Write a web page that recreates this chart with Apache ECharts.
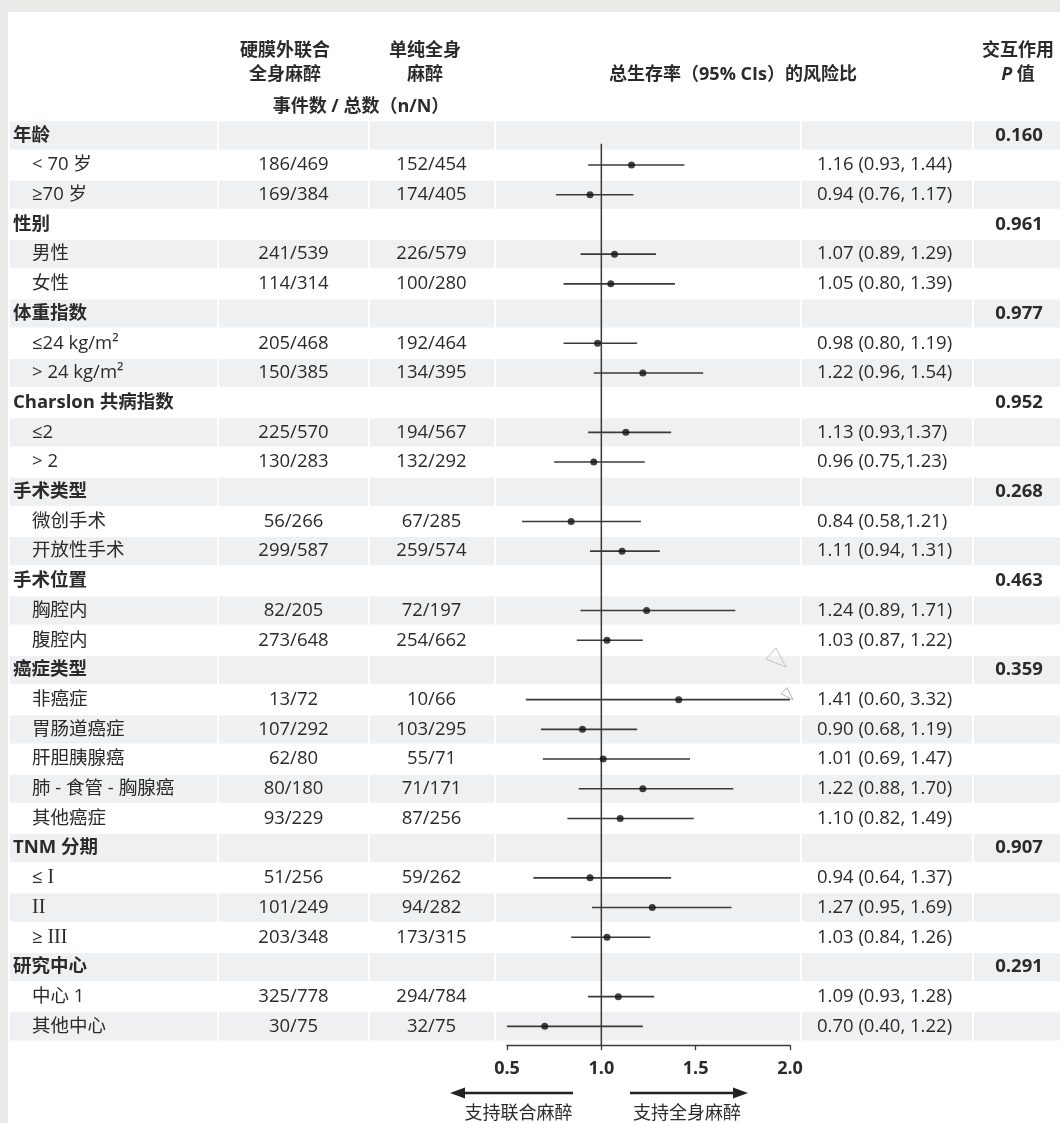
<!DOCTYPE html>
<html>
<head>
<meta charset="utf-8">
<title>总生存率风险比森林图</title>
<script src="https://cdn.jsdelivr.net/npm/echarts/dist/echarts.min.js"></script>
<style>
  html, body { margin: 0; padding: 0; background: #ebeae6; }
  #chart { width: 1060px; height: 1123px; }
</style>
</head>
<body>
<div id="chart"></div>
<script>
// ---- data ----
// {r|...} marks Roman numerals, which are set in a serif face
const rowLabels = ['年龄', '< 70 岁', '≥70 岁', '性别', '男性', '女性', '体重指数', '≤24 kg/m²', '> 24 kg/m²',
  'Charslon 共病指数', '≤2', '> 2', '手术类型', '微创手术', '开放性手术', '手术位置', '胸腔内', '腹腔内',
  '癌症类型', '非癌症', '胃肠道癌症', '肝胆胰腺癌', '肺 - 食管 - 胸腺癌', '其他癌症', 'TNM 分期', '≤ {r|I}', '{r|II}', '≥ {r|III}',
  '研究中心', '中心 1', '其他中心'];
const combinedCounts = ['', '186/469', '169/384', '', '241/539', '114/314', '', '205/468', '150/385',
  '', '225/570', '130/283', '', '56/266', '299/587', '', '82/205', '273/648',
  '', '13/72', '107/292', '62/80', '80/180', '93/229', '', '51/256', '101/249', '203/348',
  '', '325/778', '30/75'];
const generalCounts = ['', '152/454', '174/405', '', '226/579', '100/280', '', '192/464', '134/395',
  '', '194/567', '132/292', '', '67/285', '259/574', '', '72/197', '254/662',
  '', '10/66', '103/295', '55/71', '71/171', '87/256', '', '59/262', '94/282', '173/315',
  '', '294/784', '32/75'];
const hazardRatio = [null, 1.16, 0.94, null, 1.07, 1.05, null, 0.98, 1.22,
  null, 1.13, 0.96, null, 0.84, 1.11, null, 1.24, 1.03,
  null, 1.41, 0.90, 1.01, 1.22, 1.10, null, 0.94, 1.27, 1.03,
  null, 1.09, 0.70];
const ciLower = [null, 0.93, 0.76, null, 0.89, 0.80, null, 0.80, 0.96,
  null, 0.93, 0.75, null, 0.58, 0.94, null, 0.89, 0.87,
  null, 0.60, 0.68, 0.69, 0.88, 0.82, null, 0.64, 0.95, 0.84,
  null, 0.93, 0.40];
const ciUpper = [null, 1.44, 1.17, null, 1.29, 1.39, null, 1.19, 1.54,
  null, 1.37, 1.23, null, 1.21, 1.31, null, 1.71, 1.22,
  null, 3.32, 1.19, 1.47, 1.70, 1.49, null, 1.37, 1.69, 1.26,
  null, 1.28, 1.22];
const pInteraction = ['0.160', '', '', '0.961', '', '', '0.977', '', '',
  '0.952', '', '', '0.268', '', '', '0.463', '', '',
  '0.359', '', '', '', '', '', '0.907', '', '', '',
  '0.291', '', ''];
// rows whose CI text is printed without a space after the comma
const compactCiRows = [10, 11, 13];
const xTicks = [0.5, 1.0, 1.5, 2.0];

// ---- layout & style ----
const FONT = "'Open Sans', 'Noto Sans CJK SC', sans-serif";
const SERIF = "'Liberation Serif', 'DejaVu Serif', serif";
const INK = '#2b2b2b';
const STRIPE = '#eff0f1';
const ROW_TOP = 120.5;
const ROW_H = 29.7;
const ROW_FONT = 18.5;
const N = rowLabels.length;
const X_MIN = xTicks[0];
const X_MAX = xTicks[xTicks.length - 1];
// column cells in page pixels [left, right]
const COLS = [[10, 217], [219, 368], [370, 494], [496, 800], [802, 972], [974, 1060]];
const COL_COMBINED = 293.5, COL_GENERAL = 431.5, COL_HR = 817, COL_P = 1019;

function ciText(i) {
  const sep = compactCiRows.indexOf(i) >= 0 ? ',' : ', ';
  return hazardRatio[i].toFixed(2) + ' (' + ciLower[i].toFixed(2) + sep + ciUpper[i].toFixed(2) + ')';
}

function txt(x, y, text, opts) {
  return {
    type: 'text',
    style: Object.assign({
      text: text, x: x, y: y, fill: INK, fontFamily: FONT, fontSize: ROW_FONT,
      align: 'left', verticalAlign: 'middle'
    }, opts || {})
  };
}

function renderTableRow(params, api) {
  const i = api.value(1);
  const yc = api.coord([0, i])[1];
  const bandH = api.size([0, 1])[1];
  const children = [];
  if (i % 2 === 0) {
    COLS.forEach(function (c) {
      const x0 = api.coord([c[0], i])[0];
      const x1 = api.coord([c[1], i])[0];
      children.push({
        type: 'rect',
        shape: { x: x0, y: yc - bandH / 2 + 0.8, width: x1 - x0, height: bandH - 1.6 },
        style: { fill: STRIPE }
      });
    });
  }
  const isGroup = hazardRatio[i] === null;
  children.push(txt(api.coord([isGroup ? 13 : 32, i])[0], yc, rowLabels[i], {
    fontWeight: isGroup ? 'bold' : 'normal',
    rich: { r: { fontFamily: SERIF, fontSize: 20, fill: INK } }
  }));
  if (combinedCounts[i]) {
    children.push(txt(api.coord([COL_COMBINED, i])[0], yc, combinedCounts[i], { align: 'center' }));
  }
  if (generalCounts[i]) {
    children.push(txt(api.coord([COL_GENERAL, i])[0], yc, generalCounts[i], { align: 'center' }));
  }
  if (!isGroup) {
    children.push(txt(api.coord([COL_HR, i])[0], yc, ciText(i)));
  }
  if (pInteraction[i]) {
    children.push(txt(api.coord([COL_P, i])[0], yc, pInteraction[i], { align: 'center', fontWeight: 'bold' }));
  }
  return { type: 'group', children: children };
}

function renderCi(params, api) {
  const lo = api.value(0), hi = api.value(1), i = api.value(2);
  const p0 = api.coord([Math.max(lo, X_MIN), i]);
  const p1 = api.coord([Math.min(hi, X_MAX), i]);
  const children = [{
    type: 'line',
    shape: { x1: p0[0], y1: p0[1], x2: p1[0], y2: p1[1] },
    style: { stroke: '#3a3a3a', lineWidth: 1.6 }
  }];
  if (hi > X_MAX) {
    // open arrowhead marking an interval that runs past the axis
    children.push({
      type: 'polygon',
      shape: { points: [[p1[0] - 9, p1[1] - 6], [p1[0] - 3, p1[1] - 12], [p1[0] + 3, p1[1]]] },
      style: { fill: 'none', stroke: '#b5b5b5', lineWidth: 1 }
    });
  }
  return { type: 'group', children: children };
}

function renderRefLine(params, api) {
  const top = api.coord([api.value(0), 0])[1] + 8.5;
  const bottom = api.coord([api.value(0), N - 1])[1] + ROW_H / 2 + 4.5;
  const x = api.coord([api.value(0), 0])[0];
  return {
    type: 'line',
    shape: { x1: x, y1: top, x2: x, y2: bottom },
    style: { stroke: '#3a3a3a', lineWidth: 1.5 }
  };
}

const rowIdx = rowLabels.map(function (_, i) { return i; });
const ciData = [], pointData = [];
hazardRatio.forEach(function (v, i) {
  if (v === null) return;
  ciData.push([ciLower[i], ciUpper[i], i]);
  pointData.push([v, i]);
});

function gText(x, y, text, opts) {
  return {
    type: 'text', x: x, y: y, z: 20,
    style: Object.assign({
      text: text, fill: INK, fontFamily: FONT, fontSize: 18, fontWeight: 'bold',
      align: 'center', verticalAlign: 'middle'
    }, opts || {})
  };
}

const arrowY = 1093;
const option = {
  animation: false,
  backgroundColor: '#ebeae6',
  grid: [
    { left: 0, right: 0, top: ROW_TOP, height: N * ROW_H },
    { left: 507, width: 283, top: ROW_TOP, height: N * ROW_H }
  ],
  xAxis: [
    { gridIndex: 0, type: 'value', min: 0, max: 1060, show: false },
    {
      gridIndex: 1, type: 'value', min: X_MIN, max: X_MAX, interval: xTicks[1] - xTicks[0],
      position: 'bottom', offset: 4,
      axisLine: { show: true, lineStyle: { color: '#3a3a3a', width: 1.3 } },
      axisTick: { show: true, length: 5, lineStyle: { color: '#3a3a3a', width: 1.3 } },
      axisLabel: {
        margin: 15, color: INK, fontFamily: FONT, fontSize: 18, fontWeight: 'bold',
        formatter: function (v) { return v.toFixed(1); }
      },
      splitLine: { show: false }
    }
  ],
  yAxis: [
    { gridIndex: 0, type: 'category', data: rowIdx, inverse: true, show: false },
    { gridIndex: 1, type: 'category', data: rowIdx, inverse: true, show: false }
  ],
  graphic: [
    { type: 'rect', z: -10, shape: { x: 8, y: 12, width: 1060, height: 1123 }, style: { fill: '#ffffff' } },
    gText(285, 51, '硬膜外联合'),
    gText(285, 75, '全身麻醉'),
    gText(425, 51, '单纯全身'),
    gText(425, 75, '麻醉'),
    gText(361, 107, '事件数 / 总数（n/N）'),
    gText(733, 75, '总生存率（95% CIs）的风险比'),
    gText(1018, 51, '交互作用'),
    gText(1018, 75, '{i|P} 值', { rich: { i: { fontStyle: 'italic', fontWeight: 'bold', fontSize: 18, fontFamily: FONT, fill: INK } } }),
    // direction arrows under the axis
    { type: 'line', z: 20, shape: { x1: 462, y1: arrowY, x2: 573, y2: arrowY }, style: { stroke: '#222', lineWidth: 2.4 } },
    { type: 'polygon', z: 20, shape: { points: [[450, arrowY], [465, arrowY - 5.5], [465, arrowY + 5.5]] }, style: { fill: '#222' } },
    { type: 'line', z: 20, shape: { x1: 630, y1: arrowY, x2: 736, y2: arrowY }, style: { stroke: '#222', lineWidth: 2.4 } },
    { type: 'polygon', z: 20, shape: { points: [[748, arrowY], [733, arrowY - 5.5], [733, arrowY + 5.5]] }, style: { fill: '#222' } },
    gText(518.5, 1114, '支持联合麻醉', { fontWeight: 'normal' }),
    gText(687, 1114, '支持全身麻醉', { fontWeight: 'normal' }),
    { type: 'polygon', z: 20, shape: { points: [[766, 659], [776, 648], [786, 667]] }, style: { fill: 'none', stroke: '#c4c4c4', lineWidth: 1 } }
  ],
  series: [
    {
      type: 'custom', name: 'table', xAxisIndex: 0, yAxisIndex: 0, z: 1,
      renderItem: renderTableRow,
      encode: { x: 0, y: 1 },
      data: rowIdx.map(function (i) { return [0, i]; }),
      silent: true
    },
    {
      type: 'custom', name: 'ref', xAxisIndex: 1, yAxisIndex: 1, z: 3,
      renderItem: renderRefLine,
      encode: { x: 0 },
      data: [[1.0]],
      clip: false, silent: true
    },
    {
      type: 'custom', name: 'ci', xAxisIndex: 1, yAxisIndex: 1, z: 4,
      renderItem: renderCi,
      encode: { x: [0, 1], y: 2 },
      data: ciData,
      clip: false, silent: true
    },
    {
      type: 'scatter', name: 'hr', xAxisIndex: 1, yAxisIndex: 1, z: 5,
      symbol: 'circle', symbolSize: 7,
      itemStyle: { color: '#111' },
      data: pointData,
      silent: true
    }
  ]
};

const chart = echarts.init(document.getElementById('chart'), null, { renderer: 'canvas' });
chart.setOption(option);
</script>
</body>
</html>
